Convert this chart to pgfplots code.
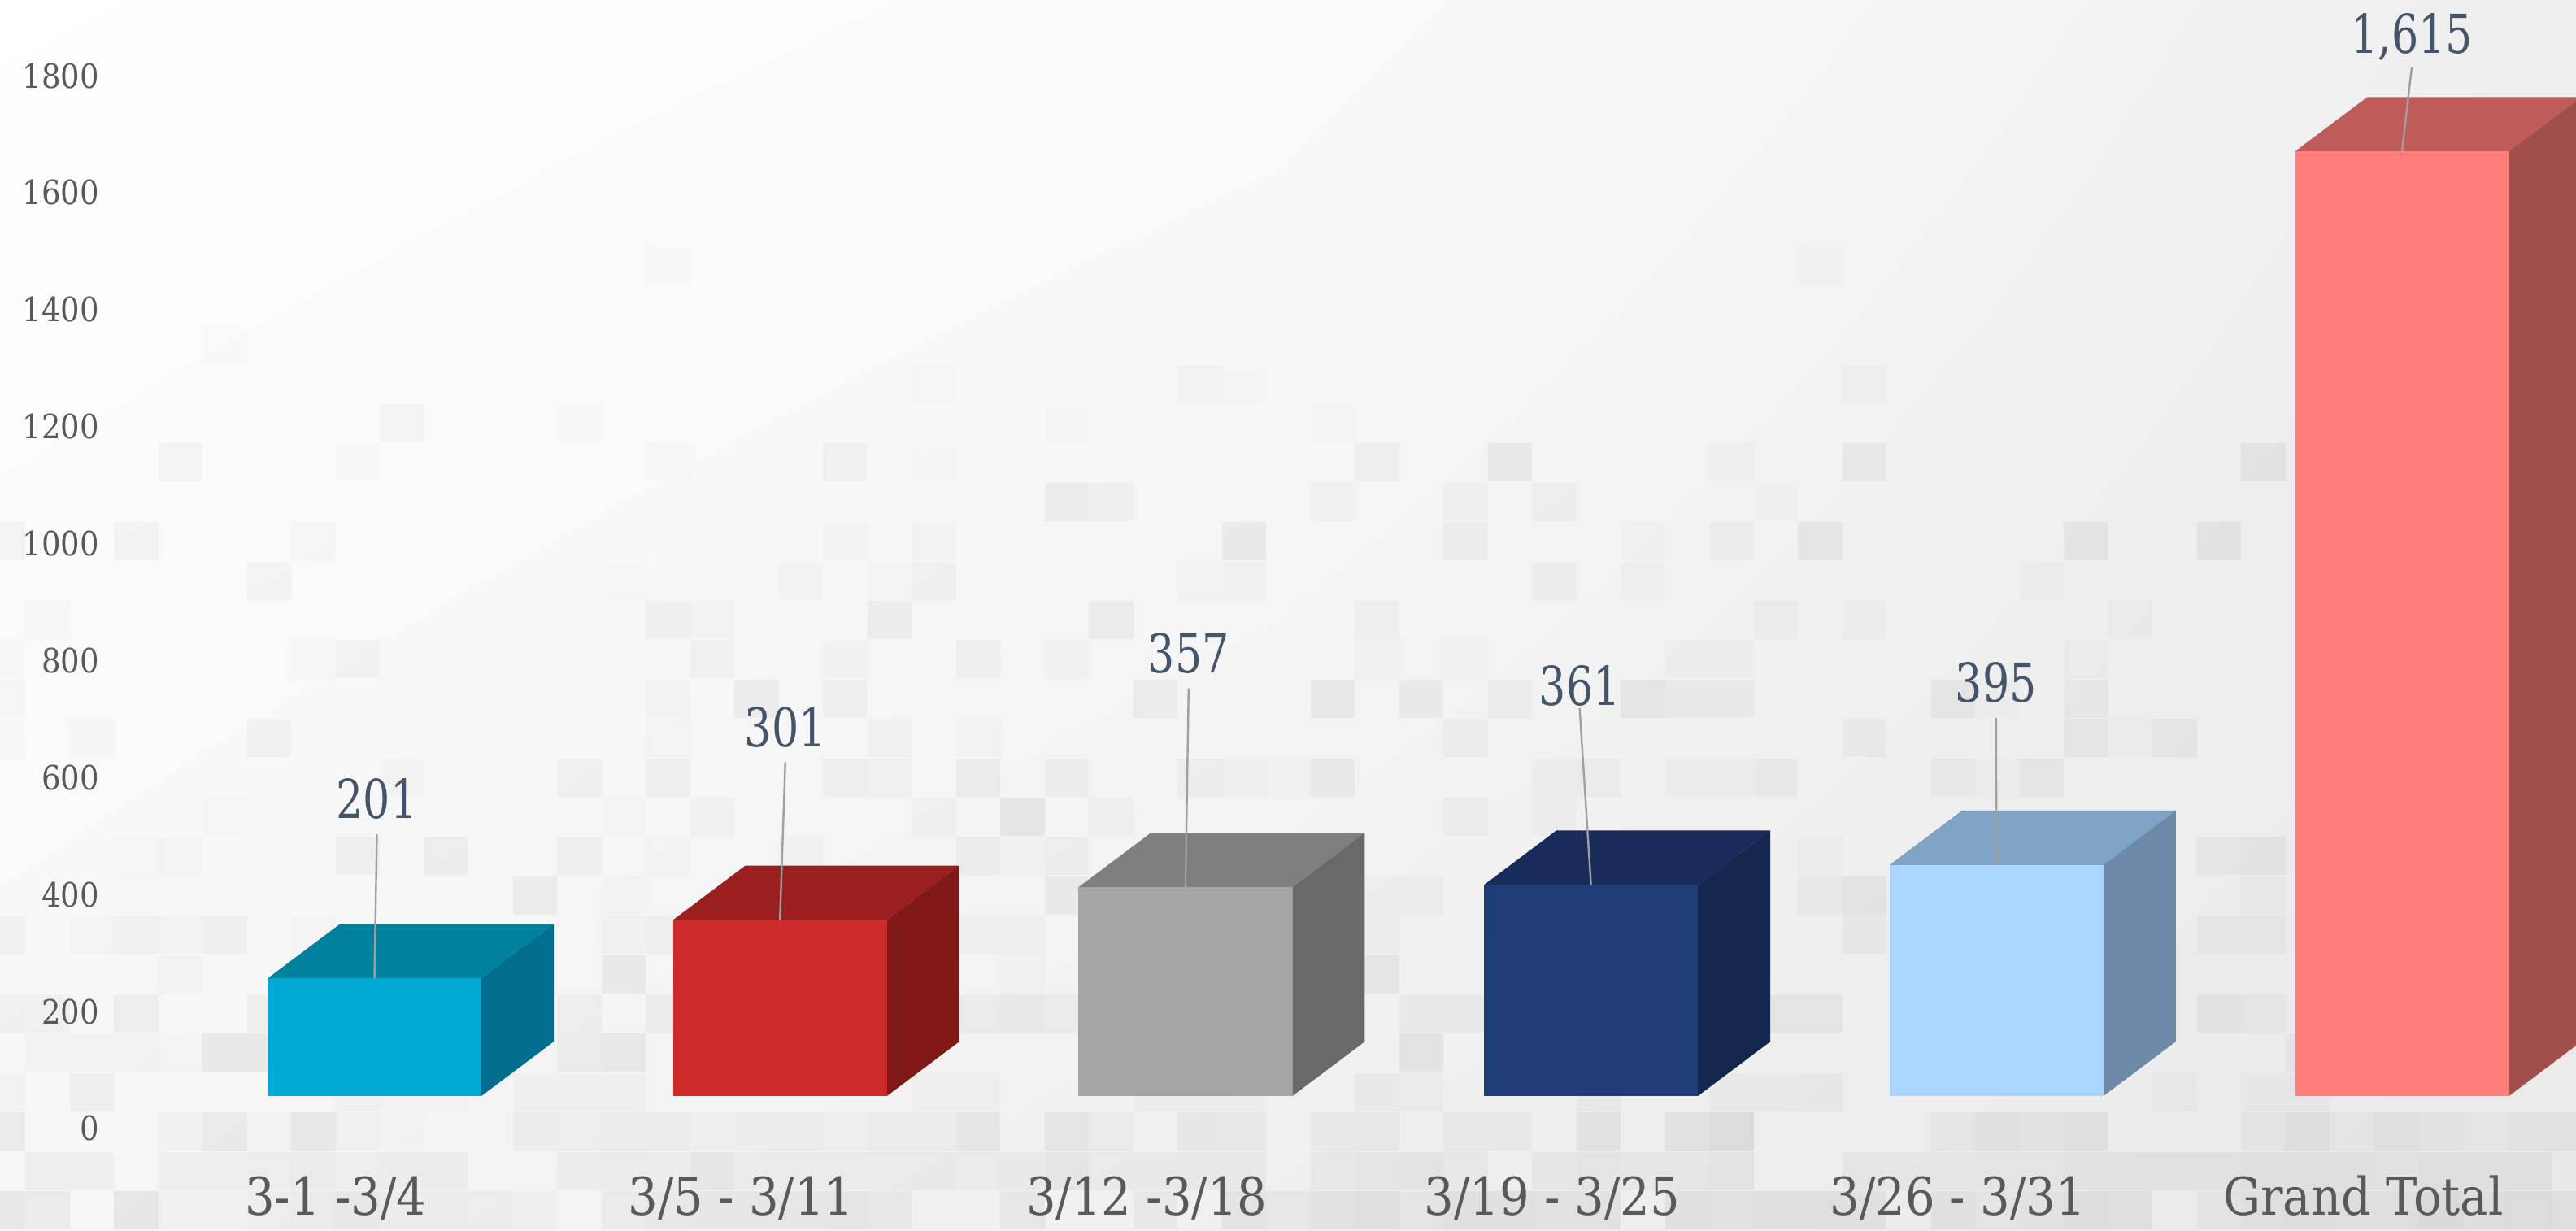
\documentclass[border=0pt]{standalone}
\usepackage{pgfplots}
\pgfplotsset{compat=1.18}
\usetikzlibrary{shadings}
\usepackage{fontspec}
\setmainfont{DejaVu Serif Condensed}
\newfontfamily\vf{DejaVu Serif Condensed}[FakeStretch=0.88]
\definecolor{tickc}{HTML}{595959}
\definecolor{valc}{HTML}{44546A}
\definecolor{lead}{HTML}{A0A0A0}
\definecolor{bgA}{HTML}{FFFFFF}
\definecolor{bgB}{HTML}{FAFAFA}
\definecolor{bgC}{HTML}{EEEEEE}
\definecolor{bgD}{HTML}{F6F6F6}
\definecolor{bgE}{HTML}{EFEFEF}
\definecolor{bgF}{HTML}{E9E9E9}
\tikzset{vlab/.style={above,yshift=1pt,text=valc,font=\vf\fontsize{16.5}{18}\selectfont}}
\begin{document}
\begin{tikzpicture}
\useasboundingbox (0,0) rectangle (792pt,378.25pt);
\clip (0,0) rectangle (792pt,378.25pt);
\begin{scope}[x=0.25pt,y=0.25pt]
\shade[upper left=bgB,upper right=bgC,lower left=bgE,lower right=bgF] (1580,0) rectangle (3168,1513);
\shade[upper left=bgA,upper right=bgB,lower left=bgD,lower right=bgE] (0,0) rectangle (1584,1513);
\foreach \k/\r/\o in {14/6/2,4/8/2,8/10/4,12/10/2,3/11/5,7/11/2,14/11/2,18/11/5,2/13/5,-1/13/5,6/13/3,18/13/3,5/14/4,13/14/2,17/14/3,0/15/2,14/15/5,15/15/3,6/16/2,7/16/4,15/16/4,18/16/3,-1/16/2,14/17/3,16/17/6,18/17/5,-1/17/3,
-1/18/2,1/18/3,5/18/4,14/18/2,8/19/3,12/19/4,14/19/4,18/19/4,4/20/2,15/20/3,13/20/2,2/21/2,3/21/3,7/21/5,9/21/6,12/21/5,14/21/2,17/21/3,11/22/7,2/22/2,13/22/2,-1/23/4,1/23/3,2/23/4,3/23/3,4/23/5,6/23/2,13/23/3,14/23/4,3/24/3,13/24/7,-1/25/5,0/25/4,2/25/6,5/25/4,12/25/5,14/25/5,0/26/3,1/26/3,4/26/8,5/26/8,2/26/3,3/26/2,12/26/6,13/26/8,-1/27/3,1/27/5,7/27/3,8/27/2,9/27/2,11/27/3,12/27/3,13/27/3,
-1/28/7,3/28/3,4/28/7,5/28/2,6/28/8,7/28/3,8/28/2,11/28/5,12/28/4,13/28/5,14/28/5,15/28/3,16/28/4,17/28/4,18/28/3,0/29/5,1/29/4,3/29/4,4/29/4,5/29/5,6/29/6,7/29/4,8/29/5,9/29/5,12/29/4,13/29/5,14/29/4,15/29/8,16/29/4,17/29/4,18/29/4,-1/30/9,0/30/7,2/30/9,3/30/3,4/30/3,5/30/5,6/30/6,7/30/7,8/30/5,9/30/5,10/30/4,11/30/3,13/30/5,14/30/6,15/30/7,16/30/7,17/30/7,18/30/8,
20/9/2,26/9/3,27/9/2,23/10/2,29/10/2,20/11/2,30/11/4,33/11/7,38/11/3,23/12/7,24/12/4,29/12/3,32/12/3,34/12/4,20/13/3,27/13/7,32/13/5,36/13/2,19/14/2,20/14/4,26/14/2,27/14/3,34/14/4,36/14/3,19/15/6,24/15/6,30/15/4,21/16/4,23/16/3,30/16/2,32/16/2,37/16/3,38/16/3,25/17/6,29/17/7,31/17/6,33/17/4,36/17/7,37/17/5,
19/18/3,21/18/2,32/18/4,21/19/6,23/19/5,19/19/3,26/19/4,27/19/3,28/19/2,29/19/6,34/19/3,35/19/4,37/19/3,38/19/3,22/20/9,20/20/3,24/20/3,32/20/4,34/20/3,21/21/6,22/21/2,23/21/4,23/22/6,30/22/3,31/22/3,30/23/3,22/23/3,21/23/3,30/24/7,22/24/2,21/25/5,22/25/6,23/25/5,24/25/4,31/25/4,32/25/5,31/26/8,20/27/3,21/27/3,25/27/3,26/27/3,27/27/3,30/27/4,31/27/3,35/27/4,38/27/3,
21/28/7,23/28/8,24/28/4,26/28/6,27/28/5,29/28/4,30/28/5,32/28/4,33/28/4,35/28/7,37/28/7,38/28/5,19/28/4,20/28/4,19/29/5,20/29/5,21/29/4,22/29/5,23/29/7,24/29/4,25/29/4,26/29/5,27/29/5,29/29/5,30/29/6,31/29/7,32/29/5,34/29/5,35/29/6,36/29/5,37/29/5,38/29/6,19/30/6,22/30/6,25/30/5,27/30/7,28/30/5,29/30/8,30/30/9,31/30/6,32/30/9,33/30/9,34/30/8,35/30/8,37/30/8,38/30/7,
40/6/2,41/9/3,41/11/6,50/11/7,39/12/2,38/13/4,40/13/7,46/13/7,49/13/7,45/14/3,41/15/3,47/15/3,39/15/4,46/16/3,38/17/5,43/17/6,46/17/5,44/17/2,41/18/4,46/18/6,48/18/6,47/18/2,39/19/5,43/19/4,45/19/6,44/19/2,40/21/3,49/21/5,50/21/6,40/22/4,41/22/7,50/22/3,41/23/5,49/23/4,50/23/5,38/25/6,39/25/6,40/25/6,49/25/6,50/25/4,51/26/4,39/27/3,40/27/4,48/27/3,50/27/3,51/27/3,
38/28/7,43/28/4,44/28/7,45/28/6,46/28/8,50/28/5,51/28/9,52/28/4,53/28/8,54/28/5,55/28/3,56/28/5,57/28/5,41/29/5,42/29/4,43/29/4,44/29/5,45/29/5,46/29/6,47/29/6,48/29/6,49/29/6,50/29/7,51/29/7,52/29/6,53/29/5,54/29/7,55/29/6,56/29/7,39/30/9,40/30/9,41/30/7,43/30/7,44/30/5,45/30/6,46/30/9,47/30/7,49/30/5,50/30/8,51/30/9,52/30/8,53/30/7,54/30/10,55/30/8,56/30/9,57/30/7}
{\pgfmathsetmacro\a{\o*0.0065}
 \fill[black,fill opacity=\a] ({31+54.5*\k},{1500-48.4*\r}) rectangle ++(54.5,-47);}
\end{scope}
\begin{axis}[at={(0,0)},anchor=south west,scale only axis,width=792pt,height=378.25pt,
 xmin=-0.9234,xmax=5.4291,ymin=-229.4,ymax=1873.8,
 axis line style={draw=none},tick style={draw=none},
 xtick={0,1,2,3,4,5},xticklabels={3-1 -3/4,3/5 - 3/11,3/12 -3/18,3/19 - 3/25,3/26 - 3/31,Grand Total},
 ytick={0,200,400,600,800,1000,1200,1400,1600,1800},
 /pgf/number format/assume math mode=true,
 /pgf/number format/1000 sep={},
 yticklabel style={font=\fontsize{10.3}{12}\selectfont,text=tickc,yshift=-10pt,anchor=east,xshift=34pt},
 xticklabel style={font=\fontsize{16}{18}\selectfont,text=tickc,anchor=base,xshift=-11.9pt,yshift=4.7pt},
 every axis plot/.append style={forget plot}]
% bar 1
\addplot[fill={rgb,255:red,0;green,129;blue,158},draw=none] coordinates {(-.2637,201)(.2637,201)(.4422,294)(-.0852,294)} -- cycle;
\addplot[fill={rgb,255:red,0;green,110;blue,140},draw=none] coordinates {(.2637,0)(.4422,93)(.4422,294)(.2637,201)} -- cycle;
\addplot[ybar,bar width=.5274,bar shift=0pt,draw=none,fill={rgb,255:red,0;green,170;blue,212}] coordinates {(0,201)};
% bar 2
\addplot[fill={rgb,255:red,154;green,31;blue,30},draw=none] coordinates {(.7363,301)(1.2637,301)(1.4422,394)(.9148,394)} -- cycle;
\addplot[fill={rgb,255:red,128;green,24;blue,23},draw=none] coordinates {(1.2637,0)(1.4422,93)(1.4422,394)(1.2637,301)} -- cycle;
\addplot[ybar,bar width=.5274,bar shift=0pt,draw=none,fill={rgb,255:red,204;green,43;blue,42}] coordinates {(1,301)};
% bar 3
\addplot[fill={rgb,255:red,127;green,127;blue,127},draw=none] coordinates {(1.7363,357)(2.2637,357)(2.4422,450)(1.9148,450)} -- cycle;
\addplot[fill={rgb,255:red,105;green,105;blue,105},draw=none] coordinates {(2.2637,0)(2.4422,93)(2.4422,450)(2.2637,357)} -- cycle;
\addplot[ybar,bar width=.5274,bar shift=0pt,draw=none,fill={rgb,255:red,165;green,165;blue,165}] coordinates {(2,357)};
% bar 4
\addplot[fill={rgb,255:red,23;green,44;blue,91},draw=none] coordinates {(2.7363,361)(3.2637,361)(3.4422,454)(2.9148,454)} -- cycle;
\addplot[fill={rgb,255:red,20;green,40;blue,79},draw=none] coordinates {(3.2637,0)(3.4422,93)(3.4422,454)(3.2637,361)} -- cycle;
\addplot[ybar,bar width=.5274,bar shift=0pt,draw=none,fill={rgb,255:red,31;green,61;blue,118}] coordinates {(3,361)};
% bar 5
\addplot[fill={rgb,255:red,127;green,163;blue,196},draw=none] coordinates {(3.7363,395)(4.2637,395)(4.4422,488)(3.9148,488)} -- cycle;
\addplot[fill={rgb,255:red,108;green,138;blue,166},draw=none] coordinates {(4.2637,0)(4.4422,93)(4.4422,488)(4.2637,395)} -- cycle;
\addplot[ybar,bar width=.5274,bar shift=0pt,draw=none,fill={rgb,255:red,169;green,212;blue,255}] coordinates {(4,395)};
% bar 6
\addplot[fill={rgb,255:red,191;green,92;blue,89},draw=none] coordinates {(4.7363,1615)(5.2637,1615)(5.4422,1708)(4.9148,1708)} -- cycle;
\addplot[fill={rgb,255:red,160;green,79;blue,76},draw=none] coordinates {(5.2637,0)(5.4422,93)(5.4422,1708)(5.2637,1615)} -- cycle;
\addplot[ybar,bar width=.5274,bar shift=0pt,draw=none,fill={rgb,255:red,255;green,126;blue,121}] coordinates {(5,1615)};
% leaders and value labels
\addplot[lead,line width=.6pt] coordinates {(0,201)(.006,447.5)} node[pos=1,vlab]{201};
\addplot[lead,line width=.6pt] coordinates {(1,301)(1.0132,570.6)} node[pos=1,vlab]{301};
\addplot[lead,line width=.6pt] coordinates {(2,357)(2.0078,697)} node[pos=1,vlab]{357};
\addplot[lead,line width=.6pt] coordinates {(3,361)(2.972,663)} node[pos=1,vlab,yshift=-4pt]{361};
\addplot[lead,line width=.6pt] coordinates {(4,395)(3.999,646.5)} node[pos=1,vlab]{395};
\addplot[lead,line width=.6pt] coordinates {(5,1615)(5.024,1758.6)} node[pos=1,vlab,yshift=-2.5pt]{1,615};
\end{axis}
\end{tikzpicture}
\end{document}
